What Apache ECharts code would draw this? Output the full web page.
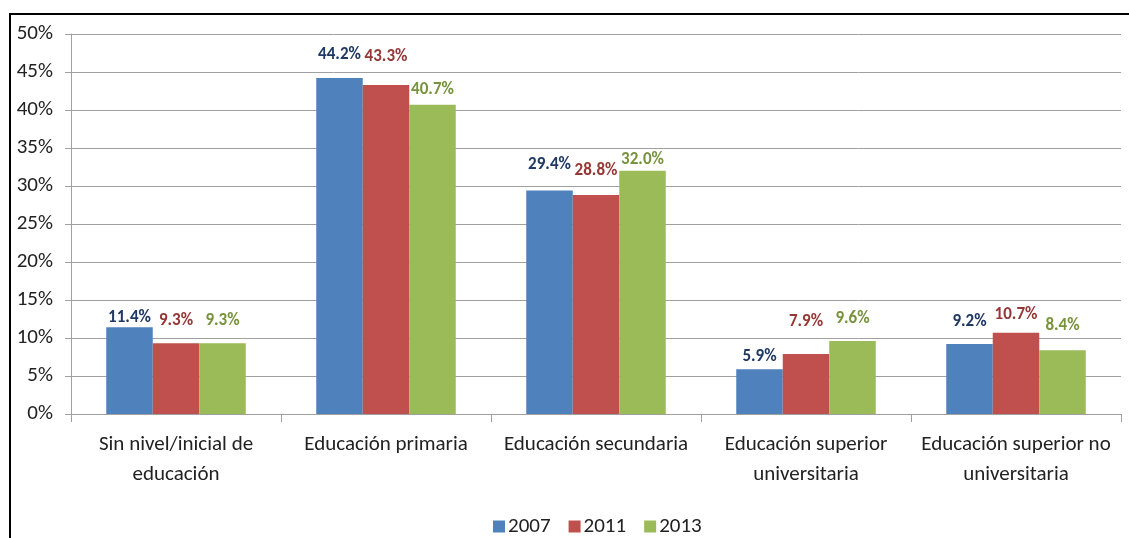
<!DOCTYPE html>
<html>
<head>
<meta charset="utf-8">
<script src="https://cdn.jsdelivr.net/npm/echarts@6/dist/echarts.min.js"></script>
<style>
  html, body { margin: 0; padding: 0; background: #ffffff; }
  #chart { width: 1129px; height: 538px; }
</style>
</head>
<body>
<div id="chart"></div>
<script>
// Population share by education level (%)
const categories = [
  'Sin nivel/inicial de\neducación',
  'Educación primaria',
  'Educación secundaria',
  'Educación superior\nuniversitaria',
  'Educación superior no\nuniversitaria'
];
const years = ['2007', '2011', '2013'];
const values2007 = [11.4, 44.2, 29.4, 5.9, 9.2];
const values2011 = [9.3, 43.3, 28.8, 7.9, 10.7];
const values2013 = [9.3, 40.7, 32.0, 9.6, 8.4];
const yTicks = [0, 5, 10, 15, 20, 25, 30, 35, 40, 45, 50];

// Vertical nudges for the value labels (layout only)
const labelNudge = {
  '2007': [4, -10, -12, 1, -9],
  '2011': [-9, -15, -11, -19, -4],
  '2013': [-9, -1, 2, -9, -11]
};

const FONT = "Carlito, Lato, sans-serif";
const barColors = ['#4F81BD', '#C0504D', '#9BBB59'];
const labelColors = ['#1F3864', '#953735', '#77933C'];
const seriesValues = [values2007, values2011, values2013];

const chart = echarts.init(document.getElementById('chart'), null, { renderer: 'canvas' });

const series = years.map((yr, s) => ({
  name: yr,
  type: 'bar',
  barWidth: 46.5,
  barGap: '0%',
  itemStyle: { color: barColors[s] },
  label: {
    show: true,
    position: 'top',
    distance: 5,
    fontFamily: FONT,
    fontSize: 17,
    fontWeight: 'bold',
    color: labelColors[s],
    formatter: p => p.value.toFixed(1) + '%'
  },
  data: seriesValues[s].map((v, i) => ({
    value: v,
    label: { offset: [0, labelNudge[yr][i]] }
  }))
}));

chart.setOption({
  animation: false,
  backgroundColor: '#ffffff',
  textStyle: { fontFamily: FONT },
  graphic: [{
    type: 'rect',
    shape: { x: 10, y: 14, width: 1200, height: 600 },
    style: { fill: 'none', stroke: '#000000', lineWidth: 2 },
    silent: true,
    z: 100
  }],
  grid: { left: 71, right: 8, top: 34, bottom: 124, containLabel: false },
  legend: {
    data: years,
    bottom: -4,
    left: 488,
    itemWidth: 12,
    itemHeight: 12,
    itemGap: 18,
    icon: 'rect',
    textStyle: { fontFamily: FONT, fontSize: 21, color: '#222222', padding: [0, 0, 0, -2] }
  },
  xAxis: {
    type: 'category',
    data: categories,
    axisLine: { lineStyle: { color: '#a0a0a0', width: 1 } },
    axisTick: { show: true, length: 8, lineStyle: { color: '#a0a0a0', width: 1 } },
    axisLabel: {
      interval: 0,
      margin: 16,
      fontFamily: FONT,
      fontSize: 21,
      lineHeight: 30,
      color: '#222222'
    }
  },
  yAxis: {
    type: 'value',
    min: yTicks[0],
    max: yTicks[yTicks.length - 1],
    interval: 5,
    axisLine: { show: true, lineStyle: { color: '#a0a0a0', width: 1 } },
    axisTick: { show: true, inside: false, length: 6, lineStyle: { color: '#a0a0a0', width: 1 } },
    splitLine: { show: true, lineStyle: { color: '#a0a0a0', width: 1 } },
    axisLabel: {
      margin: 18,
      fontFamily: FONT,
      fontSize: 21,
      color: '#222222',
      formatter: v => v + '%'
    }
  },
  series: series
});
</script>
</body>
</html>
